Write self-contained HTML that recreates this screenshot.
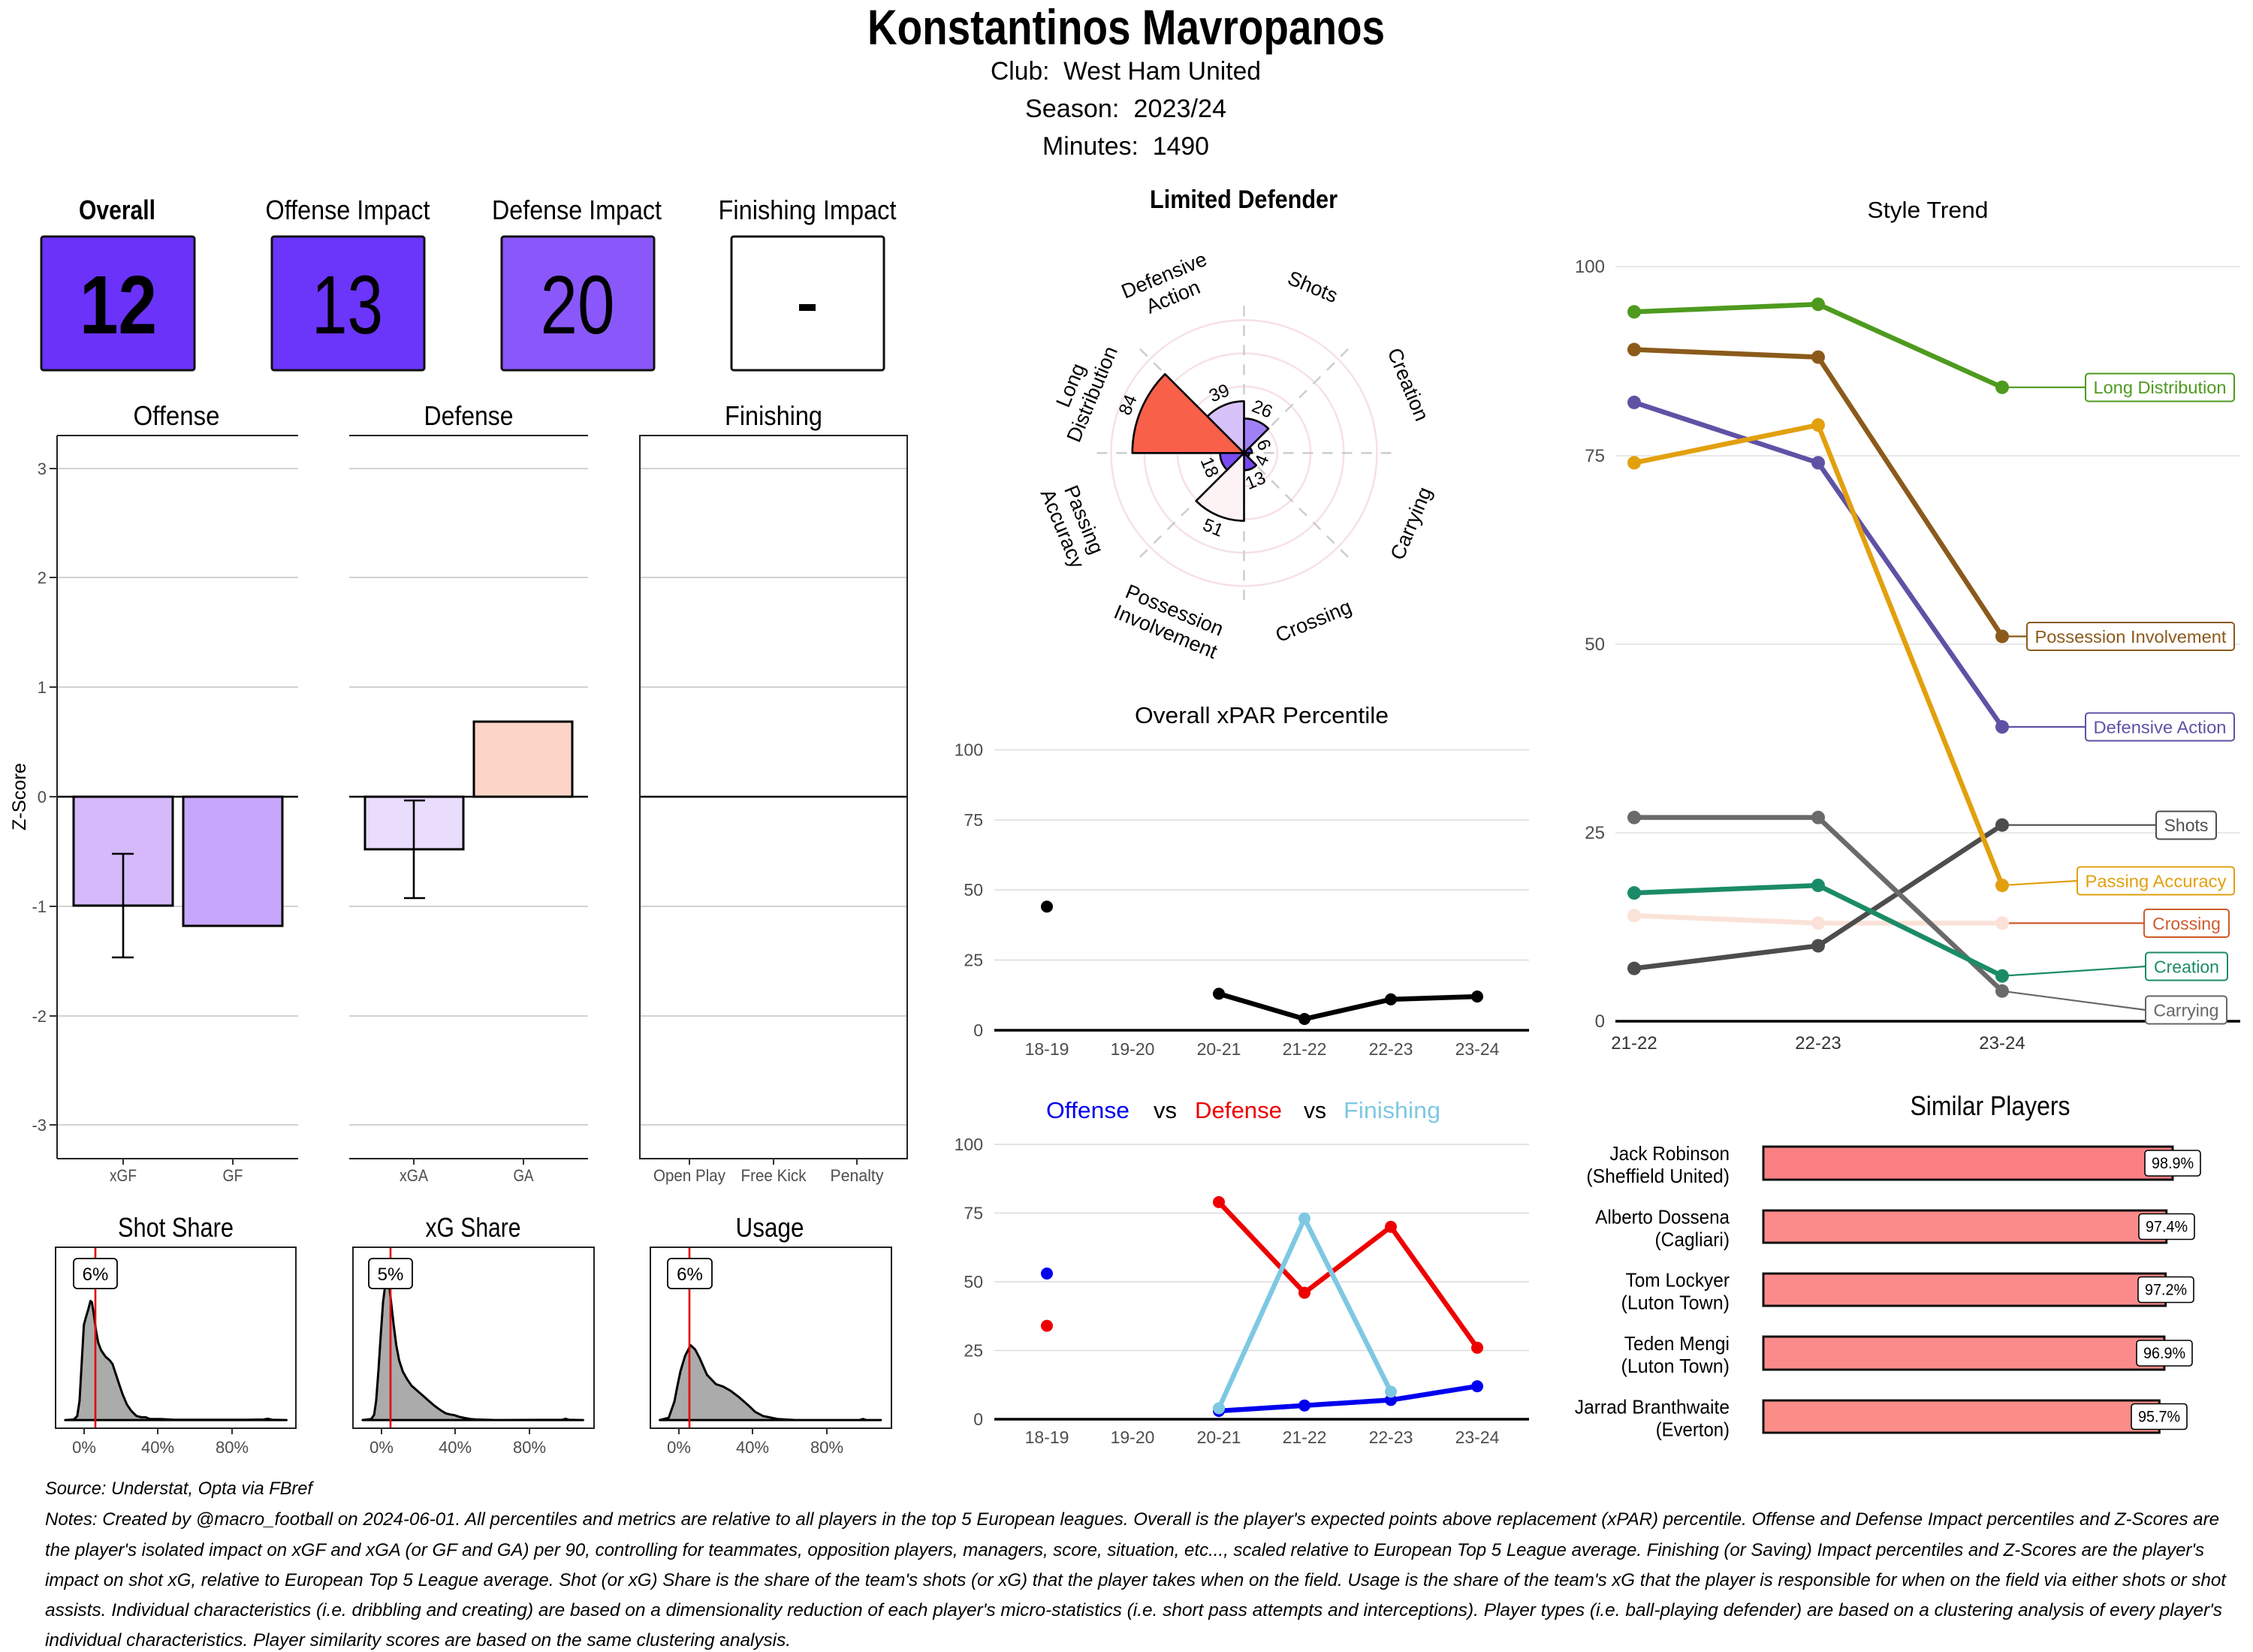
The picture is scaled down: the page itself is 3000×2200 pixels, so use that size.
<!DOCTYPE html>
<html><head><meta charset="utf-8"><style>
html,body{margin:0;padding:0;background:#fff;}
svg{display:block;}
.c{font-family:"Liberation Sans Narrow","Liberation Sans",sans-serif;}
.a{font-family:"Liberation Sans",Arial,sans-serif;}
</style></head><body>
<svg width="3000" height="2200" viewBox="0 0 3000 2200" xmlns="http://www.w3.org/2000/svg">
<rect width="3000" height="2200" fill="#fff"/>

<!-- HEADER -->
<g class="c" text-anchor="middle" fill="#000">
<text x="1499.5" y="59" font-size="66" font-weight="bold" textLength="689" lengthAdjust="spacingAndGlyphs">Konstantinos Mavropanos</text>
<text x="1499" y="106" font-size="34" textLength="360" lengthAdjust="spacingAndGlyphs">Club:&#160;&#160;West Ham United</text>
<text x="1499" y="156" font-size="34" textLength="268" lengthAdjust="spacingAndGlyphs">Season:&#160;&#160;2023/24</text>
<text x="1499" y="206" font-size="34" textLength="222" lengthAdjust="spacingAndGlyphs">Minutes:&#160;&#160;1490</text>
</g>

<!-- IMPACT BOXES -->
<g class="c" text-anchor="middle" fill="#000">
<text x="156" y="292" font-size="36" font-weight="bold" textLength="102" lengthAdjust="spacingAndGlyphs">Overall</text>
<text x="463" y="292" font-size="36" textLength="219" lengthAdjust="spacingAndGlyphs">Offense Impact</text>
<text x="768" y="292" font-size="36" textLength="226" lengthAdjust="spacingAndGlyphs">Defense Impact</text>
<text x="1075" y="292" font-size="36" textLength="237" lengthAdjust="spacingAndGlyphs">Finishing Impact</text>
</g>
<rect x="55" y="315" width="204" height="178" rx="3" fill="#6B33FA" stroke="#111" stroke-width="3"/>
<rect x="362" y="315" width="203" height="178" rx="3" fill="#6C35FA" stroke="#111" stroke-width="3"/>
<rect x="668" y="315" width="203" height="178" rx="3" fill="#8A58FA" stroke="#111" stroke-width="3"/>
<rect x="974" y="315" width="203" height="178" rx="3" fill="#fff" stroke="#111" stroke-width="3"/>
<g class="c" text-anchor="middle" fill="#000">
<text x="157.5" y="444" font-size="110" font-weight="bold" textLength="103" lengthAdjust="spacingAndGlyphs">12</text>
<text x="462.5" y="444" font-size="110" textLength="95" lengthAdjust="spacingAndGlyphs">13</text>
<text x="769" y="444" font-size="110" textLength="99" lengthAdjust="spacingAndGlyphs">20</text>
</g>
<rect x="1064" y="405" width="22" height="9" fill="#000"/>

<!-- Z-SCORE PANELS -->
<g class="c" text-anchor="middle" fill="#000" font-size="36">
<text x="235" y="566" textLength="115" lengthAdjust="spacingAndGlyphs">Offense</text>
<text x="624" y="566" textLength="119" lengthAdjust="spacingAndGlyphs">Defense</text>
<text x="1030" y="566" textLength="130" lengthAdjust="spacingAndGlyphs">Finishing</text>
</g>
<g stroke="#C4C4C4" stroke-width="1.6">
<line x1="76" x2="397" y1="624" y2="624"/><line x1="76" x2="397" y1="769" y2="769"/><line x1="76" x2="397" y1="915" y2="915"/><line x1="76" x2="397" y1="1207" y2="1207"/><line x1="76" x2="397" y1="1353" y2="1353"/><line x1="76" x2="397" y1="1498" y2="1498"/>
<line x1="465" x2="783" y1="624" y2="624"/><line x1="465" x2="783" y1="769" y2="769"/><line x1="465" x2="783" y1="915" y2="915"/><line x1="465" x2="783" y1="1207" y2="1207"/><line x1="465" x2="783" y1="1353" y2="1353"/><line x1="465" x2="783" y1="1498" y2="1498"/>
<line x1="852" x2="1208" y1="624" y2="624"/><line x1="852" x2="1208" y1="769" y2="769"/><line x1="852" x2="1208" y1="915" y2="915"/><line x1="852" x2="1208" y1="1207" y2="1207"/><line x1="852" x2="1208" y1="1353" y2="1353"/><line x1="852" x2="1208" y1="1498" y2="1498"/>
</g>
<!-- bars -->
<rect x="98" y="1061" width="132" height="145" fill="#D5B9FB" stroke="#000" stroke-width="3"/>
<rect x="244" y="1061" width="132" height="172" fill="#C7A7FC" stroke="#000" stroke-width="3"/>
<rect x="486" y="1061" width="131" height="70" fill="#E9DCFD" stroke="#000" stroke-width="3"/>
<rect x="631" y="961" width="131" height="100" fill="#FCD5C8" stroke="#000" stroke-width="3"/>
<g stroke="#000" stroke-width="2.6">
<line x1="164" x2="164" y1="1137" y2="1275"/><line x1="149" x2="178" y1="1137" y2="1137"/><line x1="149" x2="178" y1="1275" y2="1275"/>
<line x1="551" x2="551" y1="1066" y2="1196"/><line x1="538" x2="566" y1="1066" y2="1066"/><line x1="538" x2="566" y1="1196" y2="1196"/>
</g>
<g stroke="#000" stroke-width="2.6">
<line x1="76" x2="397" y1="1061" y2="1061"/>
<line x1="465" x2="783" y1="1061" y2="1061"/>
<line x1="852" x2="1208" y1="1061" y2="1061"/>
</g>
<g stroke="#222" stroke-width="2" fill="none">
<line x1="76" x2="397" y1="580" y2="580"/><line x1="76" x2="76" y1="580" y2="1543"/><line x1="76" x2="397" y1="1543" y2="1543"/>
<line x1="465" x2="783" y1="580" y2="580"/><line x1="465" x2="783" y1="1543" y2="1543"/>
<rect x="852" y="580" width="356" height="963"/>
</g>
<g stroke="#333" stroke-width="2">
<line x1="66" x2="76" y1="624" y2="624"/><line x1="66" x2="76" y1="769" y2="769"/><line x1="66" x2="76" y1="915" y2="915"/><line x1="66" x2="76" y1="1061" y2="1061"/><line x1="66" x2="76" y1="1207" y2="1207"/><line x1="66" x2="76" y1="1353" y2="1353"/><line x1="66" x2="76" y1="1498" y2="1498"/>
<line x1="164" x2="164" y1="1543" y2="1551"/><line x1="310" x2="310" y1="1543" y2="1551"/><line x1="551" x2="551" y1="1543" y2="1551"/><line x1="697" x2="697" y1="1543" y2="1551"/><line x1="918" x2="918" y1="1543" y2="1551"/><line x1="1030" x2="1030" y1="1543" y2="1551"/><line x1="1141" x2="1141" y1="1543" y2="1551"/>
</g>
<g class="c" font-size="22" fill="#4D4D4D" text-anchor="end">
<text x="62" y="632">3</text><text x="62" y="777">2</text><text x="62" y="923">1</text><text x="62" y="1069">0</text><text x="62" y="1215">-1</text><text x="62" y="1361">-2</text><text x="62" y="1506">-3</text>
</g>
<g class="c" font-size="22" fill="#4D4D4D" text-anchor="middle">
<text x="164" y="1573" textLength="36" lengthAdjust="spacingAndGlyphs">xGF</text>
<text x="310" y="1573" textLength="27" lengthAdjust="spacingAndGlyphs">GF</text>
<text x="551" y="1573" textLength="38" lengthAdjust="spacingAndGlyphs">xGA</text>
<text x="697" y="1573" textLength="27" lengthAdjust="spacingAndGlyphs">GA</text>
<text x="918" y="1573" textLength="96" lengthAdjust="spacingAndGlyphs">Open Play</text>
<text x="1030" y="1573" textLength="87" lengthAdjust="spacingAndGlyphs">Free Kick</text>
<text x="1141" y="1573" textLength="71" lengthAdjust="spacingAndGlyphs">Penalty</text>
</g>
<text class="a" transform="translate(34,1061) rotate(-90)" text-anchor="middle" font-size="25" fill="#000" textLength="90" lengthAdjust="spacingAndGlyphs">Z-Score</text>

<!-- DENSITY PANELS -->
<g class="c" text-anchor="middle" fill="#000" font-size="36">
<text x="234" y="1647" textLength="154" lengthAdjust="spacingAndGlyphs">Shot Share</text>
<text x="630" y="1647" textLength="127" lengthAdjust="spacingAndGlyphs">xG Share</text>
<text x="1025" y="1647" textLength="91" lengthAdjust="spacingAndGlyphs">Usage</text>
</g>
<g transform="translate(60,1650) scale(0.3827,0.3367)">
<path d="M70,716 L100,714 L112,700 L120,640 L128,480 L135,340 L142,310 L150,280 L158,245 L163,250 L170,300 L177,360 L185,410 L195,440 L210,465 L225,480 L235,495 L245,530 L258,575 L270,615 L285,655 L300,680 L318,700 L335,705 L350,705 L365,712 L400,712 L450,715 L500,715 L600,715 L700,715 L760,714 L775,711 L790,715 L840,716 Z" fill="#ABABAB" stroke="#000" stroke-width="3" vector-effect="non-scaling-stroke" stroke-linejoin="round"/>
<path d="M1105,716 L1135,712 L1145,695 L1152,640 L1160,520 L1168,380 L1176,250 L1184,178 L1190,168 L1198,190 L1205,260 L1213,340 L1222,420 L1232,480 L1245,525 L1260,555 L1275,580 L1290,595 L1305,610 L1320,625 L1335,640 L1350,655 L1365,668 L1380,680 L1395,690 L1410,694 L1425,697 L1440,703 L1460,708 L1480,712 L1500,714 L1568,716 L1800,715 L1811,711 L1822,715 L1872,716 Z" fill="#ABABAB" stroke="#000" stroke-width="3" vector-effect="non-scaling-stroke" stroke-linejoin="round"/>
<path d="M2139,716 L2170,707 L2190,642 L2200,582 L2211,522 L2227,462 L2246,420 L2262,437 L2278,472 L2303,537 L2334,574 L2360,584 L2385,600 L2416,627 L2446,657 L2471,684 L2498,700 L2549,712 L2610,716 L2835,716 L2846,712 L2857,716 L2908,716 Z" fill="#ABABAB" stroke="#000" stroke-width="3" vector-effect="non-scaling-stroke" stroke-linejoin="round"/>
</g>
<g stroke="#E00000" stroke-width="2.6">
<line x1="127" x2="127" y1="1661" y2="1902"/>
<line x1="520" x2="520" y1="1661" y2="1902"/>
<line x1="918" x2="918" y1="1661" y2="1902"/>
</g>
<g fill="#fff" stroke="#000" stroke-width="1.8">
<rect x="98" y="1676" width="58" height="40" rx="5"/>
<rect x="491" y="1676" width="58" height="40" rx="5"/>
<rect x="889" y="1676" width="59" height="40" rx="5"/>
</g>
<g class="a" font-size="24" text-anchor="middle" fill="#000">
<text x="127" y="1705">6%</text><text x="520" y="1705">5%</text><text x="918.5" y="1705">6%</text>
</g>
<g fill="none" stroke="#222" stroke-width="2">
<rect x="74" y="1661" width="320" height="241"/>
<rect x="470" y="1661" width="321" height="241"/>
<rect x="866" y="1661" width="321" height="241"/>
</g>
<g stroke="#333" stroke-width="2">
<line x1="112" x2="112" y1="1902" y2="1910"/><line x1="210" x2="210" y1="1902" y2="1910"/><line x1="309" x2="309" y1="1902" y2="1910"/>
<line x1="508" x2="508" y1="1902" y2="1910"/><line x1="606" x2="606" y1="1902" y2="1910"/><line x1="705" x2="705" y1="1902" y2="1910"/>
<line x1="904" x2="904" y1="1902" y2="1910"/><line x1="1002" x2="1002" y1="1902" y2="1910"/><line x1="1101" x2="1101" y1="1902" y2="1910"/>
</g>
<g class="c" font-size="22" fill="#4D4D4D" text-anchor="middle">
<text x="112" y="1935">0%</text><text x="210" y="1935">40%</text><text x="309" y="1935">80%</text>
<text x="508" y="1935">0%</text><text x="606" y="1935">40%</text><text x="705" y="1935">80%</text>
<text x="904" y="1935">0%</text><text x="1002" y="1935">40%</text><text x="1101" y="1935">80%</text>
</g>

<!-- RADAR -->
<text class="c" x="1656" y="277" text-anchor="middle" font-size="34" font-weight="bold" textLength="250" lengthAdjust="spacingAndGlyphs">Limited Defender</text>
<g fill="none" stroke="#F6E1E3" stroke-width="2.5">
<circle cx="1656.5" cy="603.3" r="44.25"/><circle cx="1656.5" cy="603.3" r="88.5"/><circle cx="1656.5" cy="603.3" r="132.75"/><circle cx="1656.5" cy="603.3" r="177"/>
</g>
<g stroke="#CDCDCD" stroke-width="2.5" stroke-dasharray="14,12">
<line x1="1656.5" y1="603.3" x2="1656.5" y2="405.3"/>
<line x1="1656.5" y1="603.3" x2="1796.5" y2="463.3"/>
<line x1="1656.5" y1="603.3" x2="1854.5" y2="603.3"/>
<line x1="1656.5" y1="603.3" x2="1796.5" y2="743.3"/>
<line x1="1656.5" y1="603.3" x2="1656.5" y2="801.3"/>
<line x1="1656.5" y1="603.3" x2="1516.5" y2="743.3"/>
<line x1="1656.5" y1="603.3" x2="1458.5" y2="603.3"/>
<line x1="1656.5" y1="603.3" x2="1516.5" y2="463.3"/>
</g>
<g stroke="#000" stroke-width="2.6" stroke-linejoin="round">
<path d="M1656.5,603.3 L1507.8,603.3 A148.7,148.7 0 0 1 1551.3,498.2 Z" fill="#F9604A"/>
<path d="M1656.5,603.3 L1607.7,554.5 A69,69 0 0 1 1656.5,534.3 Z" fill="#D7C2FA"/>
<path d="M1656.5,603.3 L1656.5,557.3 A46,46 0 0 1 1689.0,570.8 Z" fill="#A080F5"/>
<path d="M1656.5,603.3 L1664.0,595.8 A10.6,10.6 0 0 1 1667.1,603.3 Z" fill="#6C3BF7"/>
<path d="M1656.5,603.3 L1663.6,603.3 A7.1,7.1 0 0 1 1661.5,608.3 Z" fill="#6838F7"/>
<path d="M1656.5,603.3 L1672.8,619.6 A23,23 0 0 1 1656.5,626.3 Z" fill="#7749F5"/>
<path d="M1656.5,603.3 L1656.5,693.6 A90.3,90.3 0 0 1 1592.7,667.1 Z" fill="#FDF2F4"/>
<path d="M1656.5,603.3 L1634.0,625.9 A31.9,31.9 0 0 1 1624.6,603.3 Z" fill="#7A4DF3"/>
</g>
<g class="a" font-size="24" fill="#000" text-anchor="middle" dominant-baseline="central">
<text transform="translate(1680.6,545.1) rotate(22.5)">26</text>
<text transform="translate(1682.4,592.6) rotate(67.5)">6</text>
<text transform="translate(1680.5,613.3) rotate(-67.5)">4</text>
<text transform="translate(1671.8,640.3) rotate(-22.5)">13</text>
<text transform="translate(1615.2,703.1) rotate(22.5)">51</text>
<text transform="translate(1610.3,622.4) rotate(67.5)">18</text>
<text transform="translate(1502.2,539.4) rotate(-67.5)">84</text>
<text transform="translate(1623.6,523.8) rotate(-22.5)">39</text>
</g>
<g class="a" font-size="27" fill="#000" text-anchor="middle" dominant-baseline="central">
<text transform="translate(1748,382) rotate(22.5)">Shots</text>
<text transform="translate(1875,512) rotate(67.5)">Creation</text>
<text transform="translate(1879,697) rotate(-67.5)">Carrying</text>
<text transform="translate(1749,827) rotate(-22.5)">Crossing</text>
<text transform="translate(1558,827) rotate(22.5)"><tspan x="0" y="-15.5">Possession</tspan><tspan x="0" y="15.5">Involvement</tspan></text>
<text transform="translate(1429,698) rotate(67.5)"><tspan x="0" y="-15.5">Passing</tspan><tspan x="0" y="15.5">Accuracy</tspan></text>
<text transform="translate(1440,519) rotate(-67.5)"><tspan x="0" y="-15.5">Long</tspan><tspan x="0" y="15.5">Distribution</tspan></text>
<text transform="translate(1556,381) rotate(-22.5)"><tspan x="0" y="-15.5">Defensive</tspan><tspan x="0" y="15.5">Action</tspan></text>
</g>

<!-- OVERALL xPAR PERCENTILE -->
<text class="a" x="1680" y="963" text-anchor="middle" font-size="31" fill="#000" textLength="338" lengthAdjust="spacingAndGlyphs">Overall xPAR Percentile</text>
<g stroke="#DCDCDC" stroke-width="1.6">
<line x1="1324" x2="2036" y1="998.5" y2="998.5"/><line x1="1324" x2="2036" y1="1092" y2="1092"/><line x1="1324" x2="2036" y1="1185" y2="1185"/><line x1="1324" x2="2036" y1="1278.5" y2="1278.5"/>
</g>
<line x1="1324" x2="2036" y1="1372" y2="1372" stroke="#000" stroke-width="3.5"/>
<g class="a" font-size="23" fill="#4D4D4D" text-anchor="end">
<text x="1309" y="1006.5">100</text><text x="1309" y="1100">75</text><text x="1309" y="1193">50</text><text x="1309" y="1286.5">25</text><text x="1309" y="1380">0</text>
</g>
<g class="a" font-size="23" fill="#4D4D4D" text-anchor="middle">
<text x="1394" y="1405">18-19</text><text x="1508" y="1405">19-20</text><text x="1623" y="1405">20-21</text><text x="1737" y="1405">21-22</text><text x="1852" y="1405">22-23</text><text x="1967" y="1405">23-24</text>
</g>
<polyline points="1623,1323.4 1737,1357 1852,1330.9 1967,1327.1" fill="none" stroke="#000" stroke-width="6.5" stroke-linejoin="round"/>
<g fill="#000">
<circle cx="1394" cy="1207.4" r="8"/><circle cx="1623" cy="1323.4" r="8"/><circle cx="1737" cy="1357" r="8"/><circle cx="1852" cy="1330.9" r="8"/><circle cx="1967" cy="1327.1" r="8"/>
</g>

<!-- OFFENSE vs DEFENSE vs FINISHING -->
<g class="a" font-size="31">
<text x="1393" y="1489" fill="#0000EE" textLength="111" lengthAdjust="spacingAndGlyphs">Offense</text>
<text x="1536" y="1489" fill="#000" textLength="31" lengthAdjust="spacingAndGlyphs">vs</text>
<text x="1591" y="1489" fill="#EE0000" textLength="116" lengthAdjust="spacingAndGlyphs">Defense</text>
<text x="1736" y="1489" fill="#000" textLength="30" lengthAdjust="spacingAndGlyphs">vs</text>
<text x="1789" y="1489" fill="#7EC8E3" textLength="129" lengthAdjust="spacingAndGlyphs">Finishing</text>
</g>
<g stroke="#DCDCDC" stroke-width="1.6">
<line x1="1324" x2="2036" y1="1524" y2="1524"/><line x1="1324" x2="2036" y1="1615.5" y2="1615.5"/><line x1="1324" x2="2036" y1="1707" y2="1707"/><line x1="1324" x2="2036" y1="1798.5" y2="1798.5"/>
</g>
<line x1="1324" x2="2036" y1="1890" y2="1890" stroke="#000" stroke-width="3.5"/>
<g class="a" font-size="23" fill="#4D4D4D" text-anchor="end">
<text x="1309" y="1532">100</text><text x="1309" y="1623.5">75</text><text x="1309" y="1715">50</text><text x="1309" y="1806.5">25</text><text x="1309" y="1898">0</text>
</g>
<g class="a" font-size="23" fill="#4D4D4D" text-anchor="middle">
<text x="1394" y="1922">18-19</text><text x="1508" y="1922">19-20</text><text x="1623" y="1922">20-21</text><text x="1737" y="1922">21-22</text><text x="1852" y="1922">22-23</text><text x="1967" y="1922">23-24</text>
</g>
<g fill="none" stroke-width="6.5" stroke-linejoin="round">
<polyline points="1623,1600.9 1737,1721.6 1852,1633.8 1967,1794.8" stroke="#EE0000"/>
<polyline points="1623,1879 1737,1871.7 1852,1864.4 1967,1846.1" stroke="#0000EE"/>
<polyline points="1623,1875.4 1737,1622.8 1852,1853.4" stroke="#7EC8E3"/>
</g>
<g fill="#EE0000"><circle cx="1394" cy="1765.6" r="8"/><circle cx="1623" cy="1600.9" r="8"/><circle cx="1737" cy="1721.6" r="8"/><circle cx="1852" cy="1633.8" r="8"/><circle cx="1967" cy="1794.8" r="8"/></g>
<g fill="#0000EE"><circle cx="1394" cy="1696" r="8"/><circle cx="1623" cy="1879" r="8"/><circle cx="1737" cy="1871.7" r="8"/><circle cx="1852" cy="1864.4" r="8"/><circle cx="1967" cy="1846.1" r="8"/></g>
<g fill="#7EC8E3"><circle cx="1623" cy="1875.4" r="8"/><circle cx="1737" cy="1622.8" r="8"/><circle cx="1852" cy="1853.4" r="8"/></g>

<!-- STYLE TREND -->
<text class="a" x="2567" y="290" text-anchor="middle" font-size="31" fill="#000" textLength="161" lengthAdjust="spacingAndGlyphs">Style Trend</text>
<g stroke="#E0E0E0" stroke-width="1.6">
<line x1="2151" x2="2983" y1="355" y2="355"/><line x1="2151" x2="2983" y1="607" y2="607"/><line x1="2151" x2="2983" y1="858" y2="858"/><line x1="2151" x2="2983" y1="1109" y2="1109"/>
</g>
<line x1="2151" x2="2983" y1="1360" y2="1360" stroke="#000" stroke-width="3.5"/>
<g class="a" font-size="24" fill="#4D4D4D" text-anchor="end">
<text x="2137" y="363">100</text><text x="2137" y="615">75</text><text x="2137" y="866">50</text><text x="2137" y="1117">25</text><text x="2137" y="1368">0</text>
</g>
<g class="a" font-size="24" fill="#333" text-anchor="middle">
<text x="2176" y="1397">21-22</text><text x="2421" y="1397">22-23</text><text x="2666" y="1397">23-24</text>
</g>
<!-- connectors -->
<g fill="none" stroke-width="2.2">
<line x1="2666" y1="515.8" x2="2777" y2="515.8" stroke="#4E9A1E"/>
<line x1="2666" y1="847.5" x2="2699" y2="847.5" stroke="#8B5A1B"/>
<line x1="2666" y1="968" x2="2777" y2="968" stroke="#5F52A5"/>
<line x1="2666" y1="1098.7" x2="2871" y2="1098.7" stroke="#4D4D4D"/>
<line x1="2666" y1="1179" x2="2766" y2="1173" stroke="#E2A00F"/>
<line x1="2666" y1="1229.4" x2="2855" y2="1229.4" stroke="#CD5B2B"/>
<line x1="2666" y1="1299.7" x2="2857" y2="1287" stroke="#1B8B67"/>
<line x1="2666" y1="1319.8" x2="2857" y2="1345" stroke="#666"/>
</g>
<g fill="none" stroke-width="6.5" stroke-linejoin="round">
<polyline points="2176,1219.3 2421,1229.35 2666,1229.35" stroke="#FBE2D8"/>
<polyline points="2176,1289.65 2421,1259.5 2666,1098.7" stroke="#4D4D4D"/>
<polyline points="2176,1088.65 2421,1088.65 2666,1319.8" stroke="#6A6A6A"/>
<polyline points="2176,1189.15 2421,1179.1 2666,1299.7" stroke="#1B8B67"/>
<polyline points="2176,535.9 2421,616.3 2666,968.05" stroke="#5F52A5"/>
<polyline points="2176,616.3 2421,566.05 2666,1179.1" stroke="#E2A00F"/>
<polyline points="2176,465.55 2421,475.6 2666,847.45" stroke="#8B5A1B"/>
<polyline points="2176,415.3 2421,405.25 2666,515.8" stroke="#4E9A1E"/>
</g>
<g fill="#FBE2D8"><circle cx="2176" cy="1219.3" r="9"/><circle cx="2421" cy="1229.35" r="9"/><circle cx="2666" cy="1229.35" r="9"/></g>
<g fill="#4D4D4D"><circle cx="2176" cy="1289.65" r="9"/><circle cx="2421" cy="1259.5" r="9"/><circle cx="2666" cy="1098.7" r="9"/></g>
<g fill="#6A6A6A"><circle cx="2176" cy="1088.65" r="9"/><circle cx="2421" cy="1088.65" r="9"/><circle cx="2666" cy="1319.8" r="9"/></g>
<g fill="#1B8B67"><circle cx="2176" cy="1189.15" r="9"/><circle cx="2421" cy="1179.1" r="9"/><circle cx="2666" cy="1299.7" r="9"/></g>
<g fill="#5F52A5"><circle cx="2176" cy="535.9" r="9"/><circle cx="2421" cy="616.3" r="9"/><circle cx="2666" cy="968.05" r="9"/></g>
<g fill="#E2A00F"><circle cx="2176" cy="616.3" r="9"/><circle cx="2421" cy="566.05" r="9"/><circle cx="2666" cy="1179.1" r="9"/></g>
<g fill="#8B5A1B"><circle cx="2176" cy="465.55" r="9"/><circle cx="2421" cy="475.6" r="9"/><circle cx="2666" cy="847.45" r="9"/></g>
<g fill="#4E9A1E"><circle cx="2176" cy="415.3" r="9"/><circle cx="2421" cy="405.25" r="9"/><circle cx="2666" cy="515.8" r="9"/></g>
<!-- label boxes -->
<g fill="#fff" stroke-width="2">
<rect x="2777" y="497.5" width="198" height="37" rx="4" stroke="#4E9A1E"/>
<rect x="2699" y="829" width="276" height="37" rx="4" stroke="#8B5A1B"/>
<rect x="2777" y="949.5" width="198" height="37" rx="4" stroke="#5F52A5"/>
<rect x="2871" y="1080.5" width="80" height="37" rx="4" stroke="#4D4D4D"/>
<rect x="2766" y="1154.5" width="209" height="37" rx="4" stroke="#E2A00F"/>
<rect x="2855" y="1211" width="113" height="37" rx="4" stroke="#CD5B2B"/>
<rect x="2857" y="1268.5" width="109" height="37" rx="4" stroke="#1B8B67"/>
<rect x="2857" y="1326.5" width="108" height="37" rx="4" stroke="#666"/>
</g>
<g class="a" font-size="23" text-anchor="middle">
<text x="2876" y="524" fill="#4E9A1E" textLength="177" lengthAdjust="spacingAndGlyphs">Long Distribution</text>
<text x="2837" y="856" fill="#8B5A1B" textLength="255" lengthAdjust="spacingAndGlyphs">Possession Involvement</text>
<text x="2876" y="976.5" fill="#5F52A5" textLength="177" lengthAdjust="spacingAndGlyphs">Defensive Action</text>
<text x="2911" y="1107" fill="#4D4D4D">Shots</text>
<text x="2870.5" y="1181.5" fill="#E2A00F" textLength="188" lengthAdjust="spacingAndGlyphs">Passing Accuracy</text>
<text x="2911.5" y="1238" fill="#CD5B2B">Crossing</text>
<text x="2911.5" y="1295.5" fill="#1B8B67">Creation</text>
<text x="2911" y="1353.5" fill="#666">Carrying</text>
</g>

<!-- SIMILAR PLAYERS -->
<text class="c" x="2650" y="1485" text-anchor="middle" font-size="36" fill="#000" textLength="213" lengthAdjust="spacingAndGlyphs">Similar Players</text>
<g stroke="#111" stroke-width="3">
<rect x="2348" y="1527" width="545" height="44" fill="#FA8084"/>
<rect x="2348" y="1612" width="536.7" height="43" fill="#FB8B8B"/>
<rect x="2348" y="1696" width="535.6" height="43" fill="#FB8B8B"/>
<rect x="2348" y="1780" width="533.9" height="44" fill="#FB8B8B"/>
<rect x="2348" y="1865" width="527.3" height="43" fill="#FB8D88"/>
</g>
<g fill="#fff" stroke="#000" stroke-width="1.6">
<rect x="2856" y="1532" width="74" height="34" rx="4"/>
<rect x="2848" y="1616.5" width="74" height="34" rx="4"/>
<rect x="2847" y="1700.5" width="74" height="34" rx="4"/>
<rect x="2845" y="1785" width="74" height="34" rx="4"/>
<rect x="2838" y="1869.5" width="74" height="34" rx="4"/>
</g>
<g class="c" font-size="21" fill="#000" text-anchor="middle">
<text x="2893" y="1556" textLength="56" lengthAdjust="spacingAndGlyphs">98.9%</text>
<text x="2885" y="1640.5" textLength="56" lengthAdjust="spacingAndGlyphs">97.4%</text>
<text x="2884" y="1724.5" textLength="56" lengthAdjust="spacingAndGlyphs">97.2%</text>
<text x="2882" y="1809" textLength="56" lengthAdjust="spacingAndGlyphs">96.9%</text>
<text x="2875" y="1893.5" textLength="56" lengthAdjust="spacingAndGlyphs">95.7%</text>
</g>
<g class="c" font-size="26" fill="#000" text-anchor="end">
<text x="2303" y="1545" textLength="159.5" lengthAdjust="spacingAndGlyphs">Jack Robinson</text>
<text x="2303" y="1575" textLength="190.6" lengthAdjust="spacingAndGlyphs">(Sheffield United)</text>
<text x="2303" y="1629.5" textLength="178.7" lengthAdjust="spacingAndGlyphs">Alberto Dossena</text>
<text x="2303" y="1659.5" textLength="99.5" lengthAdjust="spacingAndGlyphs">(Cagliari)</text>
<text x="2303" y="1713.5" textLength="138.5" lengthAdjust="spacingAndGlyphs">Tom Lockyer</text>
<text x="2303" y="1743.5" textLength="144.5" lengthAdjust="spacingAndGlyphs">(Luton Town)</text>
<text x="2303" y="1798" textLength="140.3" lengthAdjust="spacingAndGlyphs">Teden Mengi</text>
<text x="2303" y="1828" textLength="144.5" lengthAdjust="spacingAndGlyphs">(Luton Town)</text>
<text x="2303" y="1882.5" textLength="206.2" lengthAdjust="spacingAndGlyphs">Jarrad Branthwaite</text>
<text x="2303" y="1912.5" textLength="98.3" lengthAdjust="spacingAndGlyphs">(Everton)</text>
</g>

<!-- NOTES -->
<g class="c" font-size="24" font-style="italic" fill="#000">
<text x="60" y="1990" textLength="356" lengthAdjust="spacingAndGlyphs">Source: Understat, Opta via FBref</text>
<text x="60" y="2031" textLength="2895" lengthAdjust="spacingAndGlyphs">Notes: Created by @macro_football on 2024-06-01. All percentiles and metrics are relative to all players in the top 5 European leagues. Overall is the player's expected points above replacement (xPAR) percentile. Offense and Defense Impact percentiles and Z-Scores are</text>
<text x="60" y="2072" textLength="2875" lengthAdjust="spacingAndGlyphs">the player's isolated impact on xGF and xGA (or GF and GA) per 90, controlling for teammates, opposition players, managers, score, situation, etc..., scaled relative to European Top 5 League average. Finishing (or Saving) Impact percentiles and Z-Scores are the player's</text>
<text x="60" y="2112" textLength="2904" lengthAdjust="spacingAndGlyphs">impact on shot xG, relative to European Top 5 League average. Shot (or xG) Share is the share of the team's shots (or xG) that the player takes when on the field. Usage is the share of the team's xG that the player is responsible for when on the field via either shots or shot</text>
<text x="60" y="2152" textLength="2899" lengthAdjust="spacingAndGlyphs">assists. Individual characteristics (i.e. dribbling and creating) are based on a dimensionality reduction of each player's micro-statistics (i.e. short pass attempts and interceptions). Player types (i.e. ball-playing defender) are based on a clustering analysis of every player's</text>
<text x="60" y="2192" textLength="993" lengthAdjust="spacingAndGlyphs">individual characteristics. Player similarity scores are based on the same clustering analysis.</text>
</g>
</svg>
</body></html>
